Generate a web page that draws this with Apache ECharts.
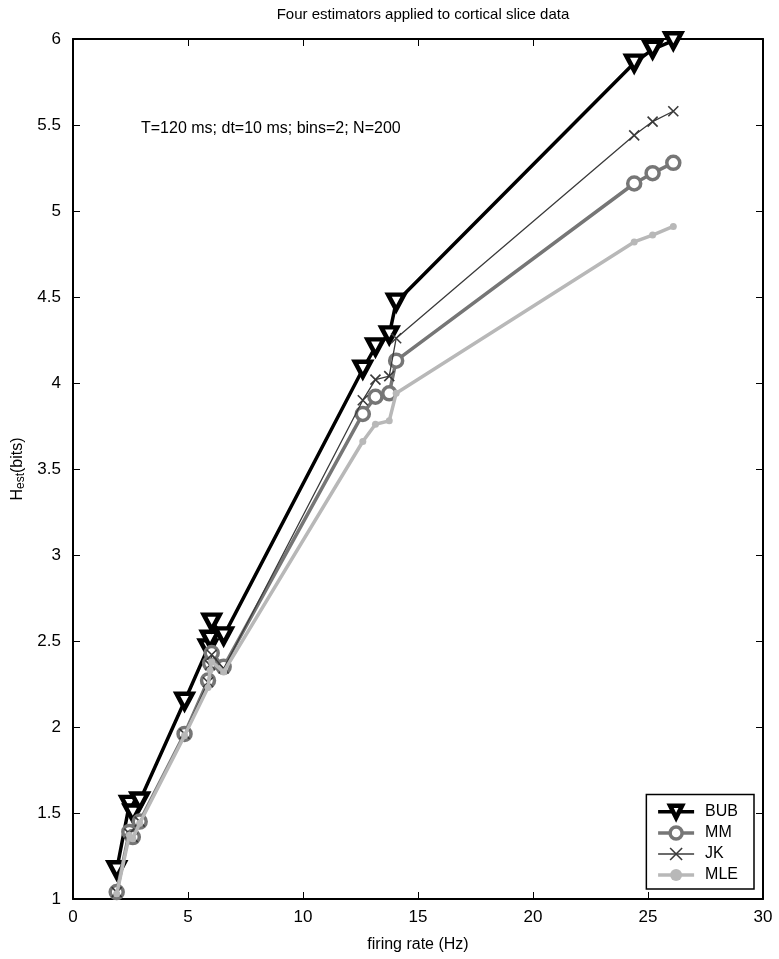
<!DOCTYPE html>
<html>
<head>
<meta charset="utf-8">
<script src="https://cdn.jsdelivr.net/npm/echarts@6/dist/echarts.min.js"></script>
<style>
html,body{margin:0;padding:0;background:#fff;}
#c{width:779px;height:959px;}
</style>
</head>
<body>
<div id="c"></div>
<script>
const rate = [1.9, 2.45, 2.6, 2.9, 4.85, 5.87, 5.96, 6.03, 6.55, 12.6, 13.15, 13.75, 14.05, 24.4, 25.2, 26.1];
const bub  = [1.17, 1.55, 1.50, 1.57, 2.15, 2.46, 2.51, 2.61, 2.53, 4.08, 4.21, 4.28, 4.47, 5.86, 5.94, 5.99];
const mm   = [1.04, 1.39, 1.36, 1.45, 1.96, 2.27, 2.37, 2.43, 2.35, 3.82, 3.92, 3.94, 4.13, 5.16, 5.22, 5.28];
const jk   = [1.04, 1.38, 1.36, 1.45, 1.96, 2.26, 2.36, 2.42, 2.34, 3.90, 4.02, 4.04, 4.26, 5.44, 5.52, 5.58];
const mle  = [1.03, 1.37, 1.35, 1.44, 1.95, 2.23, 2.33, 2.38, 2.32, 3.66, 3.76, 3.78, 3.94, 4.82, 4.86, 4.91];
const seriesNames = ['BUB', 'MM', 'JK', 'MLE'];
const xTicks = [0, 5, 10, 15, 20, 25, 30];
const yTicks = [1, 1.5, 2, 2.5, 3, 3.5, 4, 4.5, 5, 5.5, 6];

const pairs = ys => rate.map((x, i) => [x, ys[i]]);
const font = 'Liberation Sans, Arial, Helvetica, sans-serif';

const styles = {
  BUB: {line: '#000', lw: 3.5, symbol: 'path://M0,0L12,0L6,11Z', size: [16, 15], fill: '#fff', border: '#000', bw: 4.5},
  MM:  {line: '#767676', lw: 3.5, symbol: 'circle', size: 13, fill: '#fff', border: '#767676', bw: 3.5},
  JK:  {line: '#3a3a3a', lw: 1.3, symbol: 'path://M0,0L10,10M10,0L0,10', size: 10, fill: 'rgba(0,0,0,0)', border: '#3a3a3a', bw: 1.6},
  MLE: {line: '#b8b8b8', lw: 3.5, symbol: 'circle', size: 7, fill: '#b8b8b8', border: '#b8b8b8', bw: 0}
};
const values = {BUB: bub, MM: mm, JK: jk, MLE: mle};

const chart = echarts.init(document.getElementById('c'), null, {renderer: 'canvas'});
const axisCommon = {
  axisLine: {show: true, onZero: false, lineStyle: {color: '#000', width: 2}},
  axisTick: {show: true, inside: true, length: 7, lineStyle: {color: '#000', width: 1}},
  splitLine: {show: false}
};
chart.setOption({
  animation: false,
  backgroundColor: '#fff',
  title: [
    {text: 'Four estimators applied to cortical slice data', left: 418, top: 2, textAlign: 'center',
     textStyle: {fontFamily: font, fontSize: 15, fontWeight: 'normal', color: '#000'}},
    {text: 'T=120 ms; dt=10 ms; bins=2; N=200', left: 136, top: 116,
     textStyle: {fontFamily: font, fontSize: 16, fontWeight: 'normal', color: '#000'}}
  ],
  grid: {left: 73, right: 16, top: 39, bottom: 60, containLabel: false, outerBoundsMode: 'none'},
  xAxis: [
    Object.assign({type: 'value', min: 0, max: 30, interval: 5, position: 'bottom',
      name: 'firing rate (Hz)', nameLocation: 'middle', nameGap: 38,
      nameTextStyle: {fontFamily: font, fontSize: 16, color: '#000'},
      axisLabel: {show: true, margin: 10, fontFamily: font, fontSize: 17, color: '#000',
        formatter: v => xTicks.includes(v) ? String(v) : ''}}, axisCommon),
    Object.assign({type: 'value', min: 0, max: 30, interval: 5, position: 'top',
      axisLabel: {show: false}}, axisCommon)
  ],
  yAxis: [
    Object.assign({type: 'value', min: 1, max: 6, interval: 0.5, position: 'left',
      name: '{h|H}{s|est}{h|(bits)}', nameLocation: 'middle', nameGap: 42, nameRotate: 90,
      nameTextStyle: {fontFamily: font, color: '#000',
        rich: {h: {fontFamily: font, fontSize: 16, color: '#000', lineHeight: 17, verticalAlign: 'top'},
               s: {fontFamily: font, fontSize: 12, color: '#000', lineHeight: 12, padding: [10, 0, 0, 0], verticalAlign: 'bottom'}}},
      axisLabel: {show: true, margin: 12, fontFamily: font, fontSize: 17, color: '#000',
        formatter: v => yTicks.includes(+v.toFixed(2)) ? String(+v.toFixed(2)) : ''}}, axisCommon),
    Object.assign({type: 'value', min: 1, max: 6, interval: 0.5, position: 'right',
      axisLabel: {show: false}}, axisCommon)
  ],
  legend: {
    orient: 'vertical', right: 25, bottom: 70,
    backgroundColor: '#fff', borderColor: '#000', borderWidth: 1.5, borderRadius: 0,
    padding: [9, 16, 6, 10], itemGap: 5, itemWidth: 36, itemHeight: 15,
    textStyle: {fontFamily: font, fontSize: 16, color: '#000', padding: [0, 0, 0, 6]},
    data: seriesNames.map(n => ({name: n,
      lineStyle: {color: styles[n].line, width: styles[n].lw},
      itemStyle: {color: styles[n].fill, borderColor: styles[n].border, borderWidth: styles[n].bw}}))
  },
  series: seriesNames.map((n, k) => ({
    name: n, type: 'line', data: pairs(values[n]), xAxisIndex: 0, yAxisIndex: 0,
    lineStyle: {color: styles[n].line, width: styles[n].lw},
    symbol: styles[n].symbol, symbolSize: styles[n].size, showAllSymbol: true,
    itemStyle: {color: styles[n].fill, borderColor: styles[n].border, borderWidth: styles[n].bw},
    z: 2 + k
  }))
});
</script>
</body>
</html>
